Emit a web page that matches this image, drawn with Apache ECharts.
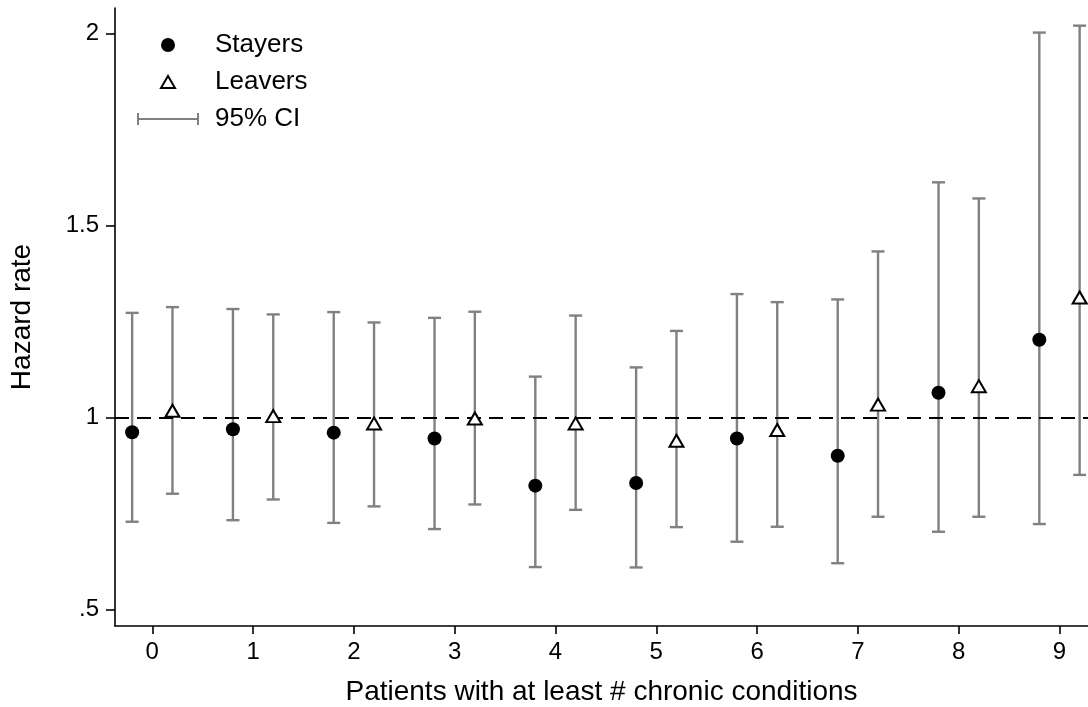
<!DOCTYPE html>
<html>
<head>
<meta charset="utf-8">
<script src="https://cdn.jsdelivr.net/npm/echarts@6/dist/echarts.min.js"></script>
<style>
  html, body { margin: 0; padding: 0; background: #fff; }
  #chart { width: 1088px; height: 707px; }
</style>
</head>
<body>
<div id="chart"></div>
<script>
// Number of chronic conditions (x categories)
const conditions = [0, 1, 2, 3, 4, 5, 6, 7, 8, 9];

// Stayers: hazard rate and 95% confidence bounds
const stayerRate = [0.961, 0.969, 0.960, 0.945, 0.822, 0.829, 0.945, 0.900, 1.064, 1.202];
const stayerLow  = [0.728, 0.732, 0.725, 0.709, 0.610, 0.609, 0.676, 0.620, 0.702, 0.722];
const stayerHigh = [1.272, 1.282, 1.274, 1.259, 1.106, 1.130, 1.321, 1.307, 1.612, 2.002];

// Leavers: hazard rate and 95% confidence bounds
const leaverRate = [1.017, 1.003, 0.984, 0.997, 0.984, 0.939, 0.967, 1.033, 1.081, 1.312];
const leaverLow  = [0.801, 0.786, 0.768, 0.773, 0.759, 0.714, 0.715, 0.741, 0.741, 0.850];
const leaverHigh = [1.287, 1.268, 1.247, 1.275, 1.265, 1.225, 1.300, 1.432, 1.570, 2.020];

// Y tick values
const yTicks = [0.5, 1, 1.5, 2];

// Horizontal dodge between the two groups
const DODGE = 0.2;
const CI_COLOR = '#808080';
const FONT = '"Liberation Sans", Arial, Helvetica, sans-serif';

const stayerPts = conditions.map((c, i) => [c - DODGE, stayerRate[i]]);
const leaverPts = conditions.map((c, i) => [c + DODGE, leaverRate[i]]);
const ciRows = conditions.map((c, i) => [c - DODGE, stayerLow[i], stayerHigh[i]])
  .concat(conditions.map((c, i) => [c + DODGE, leaverLow[i], leaverHigh[i]]));

function renderCI(params, api) {
  const x = api.value(0);
  const lo = api.coord([x, api.value(1)]);
  const hi = api.coord([x, api.value(2)]);
  const half = 6.5;
  const style = { stroke: CI_COLOR, lineWidth: 2.4, fill: null };
  return {
    type: 'group',
    children: [
      { type: 'line', shape: { x1: lo[0], y1: lo[1], x2: hi[0], y2: hi[1] }, style },
      { type: 'line', shape: { x1: lo[0] - half, y1: lo[1], x2: lo[0] + half, y2: lo[1] }, style },
      { type: 'line', shape: { x1: hi[0] - half, y1: hi[1], x2: hi[0] + half, y2: hi[1] }, style }
    ]
  };
}

function yLabel(v) {
  const s = String(v);
  return s.startsWith('0.') ? s.slice(1) : s;
}

// Legend icons span the full 62x14 item box so they are not stretched
const ICON_CIRCLE = 'path://M0,0L0,0M62,14L62,14M24,7a7,7 0 1,0 14,0a7,7 0 1,0 -14,0Z';
const ICON_TRIANGLE = 'path://M0,0L0,0M62,14L62,14M24,13L31,1L38,13Z';
const ICON_CI = 'path://M0,0L0,0M62,14L62,14M0,1h2v12h-2z M2,6h58v2h-58z M60,1h2v12h-2z';

const chart = echarts.init(document.getElementById('chart'), null, { renderer: 'canvas' });

chart.setOption({
  animation: false,
  backgroundColor: '#fff',
  textStyle: { fontFamily: FONT },
  grid: { left: 115, right: 0, top: 8, bottom: 81, containLabel: false, outerBoundsMode: 'none' },
  legend: {
    orient: 'vertical',
    left: 136,
    top: 32,
    padding: 0,
    itemWidth: 62,
    itemHeight: 14,
    itemGap: 11,
    selectedMode: false,
    textStyle: { fontFamily: FONT, fontSize: 26, color: '#000', lineHeight: 26, padding: [0, 0, 0, 11] },
    data: [
      { name: 'Stayers', icon: ICON_CIRCLE, itemStyle: { color: '#000', borderWidth: 0 } },
      { name: 'Leavers', icon: ICON_TRIANGLE, itemStyle: { color: '#fff', borderColor: '#000', borderWidth: 2 } },
      { name: '95% CI', icon: ICON_CI, itemStyle: { color: CI_COLOR, borderWidth: 0 } }
    ]
  },
  xAxis: {
    type: 'value',
    min: -0.37,
    max: 9.283,
    name: 'Patients with at least # chronic conditions',
    nameLocation: 'middle',
    nameGap: 52,
    nameTextStyle: { fontFamily: FONT, fontSize: 28, color: '#000' },
    splitLine: { show: false },
    axisLine: { onZero: false, lineStyle: { color: '#000', width: 1.6 } },
    axisTick: { show: true, length: 8, customValues: conditions, lineStyle: { color: '#000', width: 1.6 } },
    axisLabel: { customValues: conditions, fontSize: 24, color: '#000', margin: 14, fontFamily: FONT }
  },
  yAxis: {
    type: 'value',
    min: 0.4565,
    max: 2.066,
    name: 'Hazard rate',
    nameLocation: 'middle',
    nameGap: 79,
    nameTextStyle: { fontFamily: FONT, fontSize: 28, color: '#000' },
    splitLine: { show: false },
    axisLine: { show: true, onZero: false, lineStyle: { color: '#000', width: 1.6 } },
    axisTick: { show: true, length: 9, customValues: yTicks, lineStyle: { color: '#000', width: 1.6 } },
    axisLabel: { customValues: yTicks, fontSize: 24, color: '#000', margin: 16, fontFamily: FONT, formatter: yLabel }
  },
  series: [
    {
      name: '95% CI',
      type: 'custom',
      z: 1,
      renderItem: renderCI,
      itemStyle: { color: CI_COLOR },
      encode: { x: 0, y: [1, 2] },
      data: ciRows,
      markLine: {
        z: 2,
        silent: true,
        symbol: ['none', 'none'],
        label: { show: false },
        lineStyle: { color: '#000', width: 2, type: [14, 8] },
        data: [{ yAxis: 1 }]
      }
    },
    {
      name: 'Stayers',
      type: 'scatter',
      z: 3,
      symbol: 'circle',
      symbolSize: 14,
      itemStyle: { color: '#000', opacity: 1 },
      data: stayerPts
    },
    {
      name: 'Leavers',
      type: 'scatter',
      z: 3,
      symbol: 'triangle',
      symbolSize: [14, 12],
      itemStyle: { color: '#fff', borderColor: '#000', borderWidth: 2, opacity: 1 },
      data: leaverPts
    }
  ]
});
</script>
</body>
</html>
